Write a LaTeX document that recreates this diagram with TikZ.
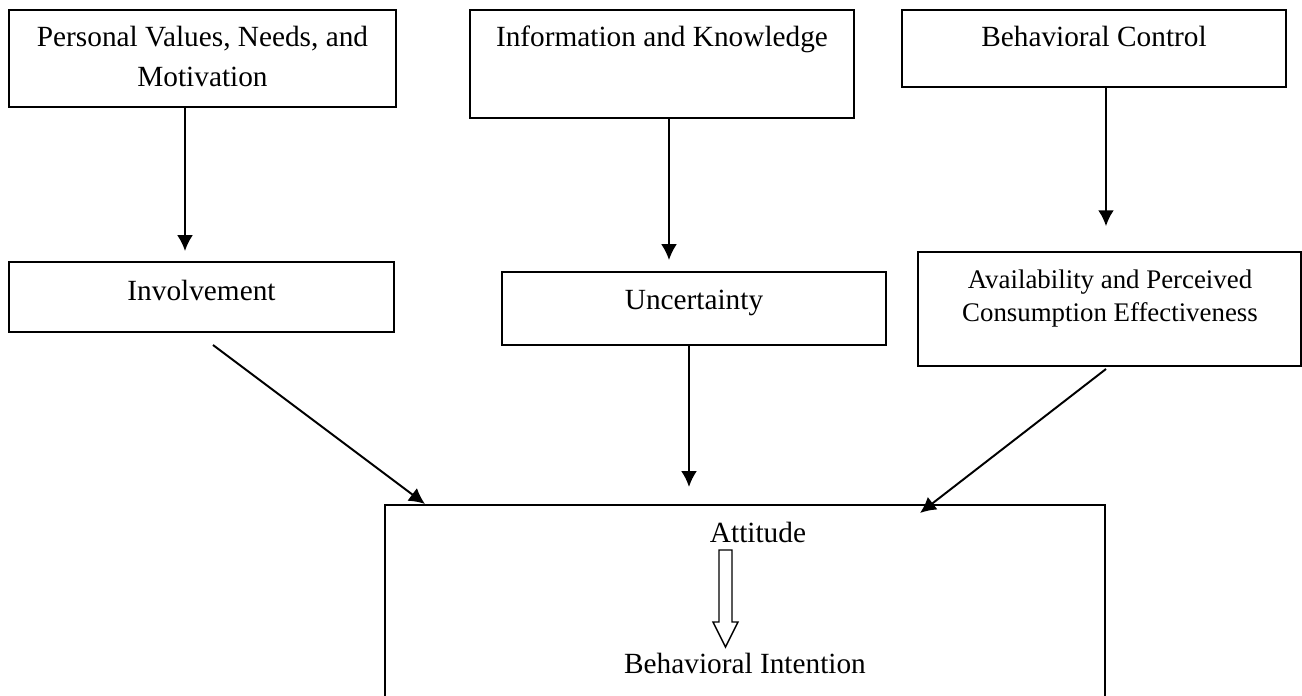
\documentclass[tikz,border=0pt]{standalone}
\usepackage{fontspec}
\setmainfont{Liberation Serif}
\usetikzlibrary{arrows.meta,positioning}
\tikzset{>={Latex[length=6.5pt,width=6.5pt]}}
\newcommand{\pxl}{0.4096pt}

\begin{document}
\begin{tikzpicture}[x=0.4096pt, y=-0.4096pt,
    box/.style={draw, line width=0.8pt, inner sep=0pt},
    lbl/.style={anchor=base, align=center, inner sep=0pt, font=\fontsize{12}{16.4}\selectfont},
    lblsmall/.style={lbl, font=\fontsize{11}{13.9}\selectfont},
    conn/.style={->, line width=0.8pt}]
            \useasboundingbox (0,0) rectangle (1302,696);

            % top row
            \node[box, minimum width=387*\pxl, minimum height=97*\pxl] (pvn) at (202.5,58.5) {};
            \node[box, minimum width=384*\pxl, minimum height=108*\pxl] (info) at (662,64) {};
            \node[box, minimum width=384*\pxl, minimum height=77*\pxl] (bctrl) at (1094,48.5) {};
            \node[lbl] (pvn-t) at (202.5,87) {Personal Values, Needs, and\\Motivation};
            \node[lbl] (info-t) at (662,47) {Information and Knowledge};
            \node[lbl] (bctrl-t) at (1094,47) {Behavioral Control};

            % middle row
            \node[box, minimum width=385*\pxl, minimum height=70*\pxl] (inv) at (201.5,297) {};
            \node[box, minimum width=384*\pxl, minimum height=73*\pxl] (unc) at (694,308.5) {};
            \node[box, minimum width=383*\pxl, minimum height=114*\pxl] (avail) at (1109.5,309) {};
            \node[lbl] (inv-t) at (201.5,300) {Involvement};
            \node[lbl] (unc-t) at (694,310) {Uncertainty};
            \node[lblsmall] (avail-t) at (1110,322) {Availability and Perceived\\Consumption Effectiveness};

            % bottom box
            \node[box, minimum width=720*\pxl, minimum height=197*\pxl] (att) at (745,603.5) {};
            \node[lbl] (att-t) at (758,543) {Attitude};
            \node[lbl] (bi-t) at (745,673) {Behavioral Intention};

            % arrows
            \draw[conn, shorten >=4.1pt] (pvn.south -| 185,0) -- (inv.north -| 185,0);
            \draw[conn, shorten >=4.5pt] (info.south -| 669,0) -- (unc.north -| 669,0);
            \draw[conn, shorten >=10.2pt] (bctrl.south -| 1106,0) -- (avail.north -| 1106,0);

            \coordinate (inv-out) at (213,345);
            \coordinate (avail-out) at (1106,369);
            \coordinate (att-in) at (920,513);
            \draw[conn] (inv-out) -- (att.north -| 425,0);
            \draw[conn, shorten >=7pt] (unc.south -| 689,0) -- (att.north -| 689,0);
            \draw[conn] (avail-out) -- (att-in);

            % hollow arrow
            \draw[line width=0.6pt, fill=white] (719,550) -- (732,550) -- (732,622) -- (738,622)
                -- (725.5,647) -- (713,622) -- (719,622) -- cycle;
\end{tikzpicture}
\end{document}
